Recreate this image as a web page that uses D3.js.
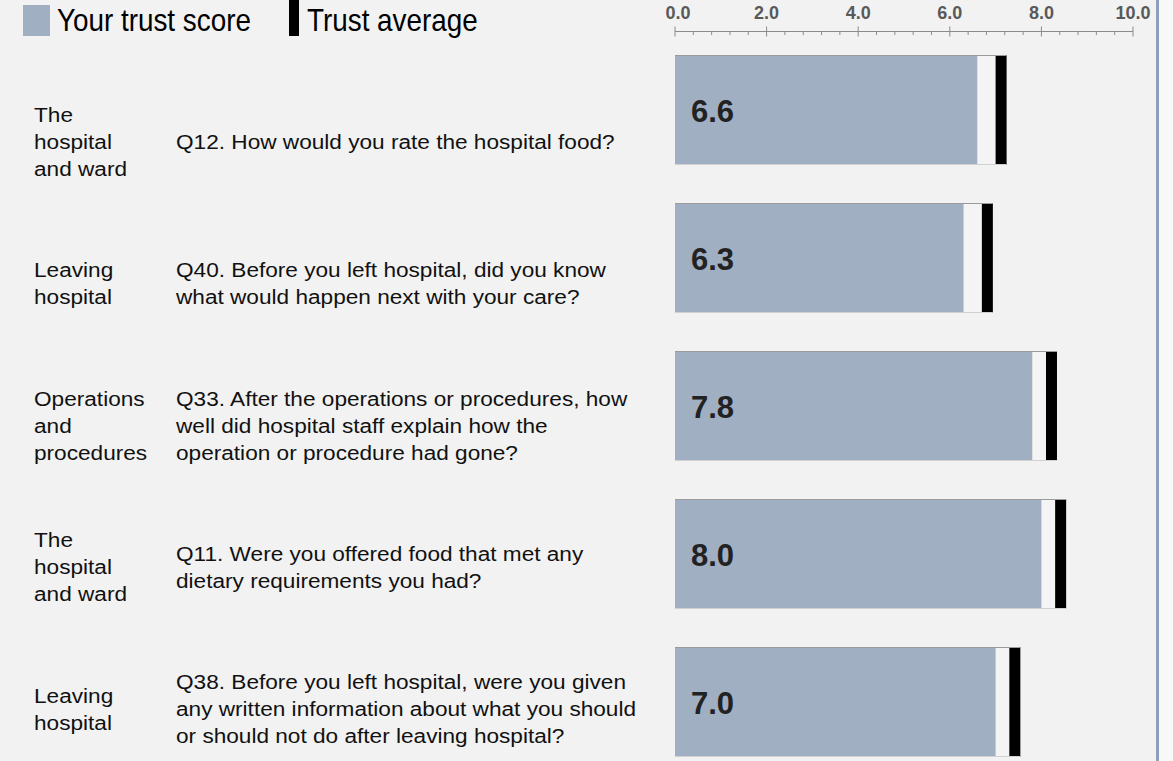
<!DOCTYPE html>
<html><head><meta charset="utf-8">
<script src="https://cdn.jsdelivr.net/npm/d3@7"></script>
<style>
html,body{margin:0;padding:0;background:#f2f2f2;}
svg{display:block;font-family:"Liberation Sans",Arial,sans-serif;}
</style></head>
<body>
<svg id="chart" width="1173" height="761"></svg>
<script>
const categories = [
  ["The","hospital","and ward"],
  ["Leaving","hospital"],
  ["Operations","and","procedures"],
  ["The","hospital","and ward"],
  ["Leaving","hospital"]
];
const questions = [
  ["Q12. How would you rate the hospital food?"],
  ["Q40. Before you left hospital, did you know","what would happen next with your care?"],
  ["Q33. After the operations or procedures, how","well did hospital staff explain how the","operation or procedure had gone?"],
  ["Q11. Were you offered food that met any","dietary requirements you had?"],
  ["Q38. Before you left hospital, were you given","any written information about what you should","or should not do after leaving hospital?"]
];
const scores = [6.6, 6.3, 7.8, 8.0, 7.0];
const averages = [7.0, 6.7, 8.1, 8.3, 7.3];
const axisTicks = [0, 2, 4, 6, 8, 10];
const legendLabels = ["Your trust score", "Trust average"];

const svg = d3.select("#chart");
const W = 1173, H = 761;
svg.append("rect").attr("x",0).attr("y",0).attr("width",W).attr("height",H).attr("fill","#f2f2f2");
svg.append("rect").attr("x",1159).attr("y",0).attr("width",W-1159).attr("height",H).attr("fill","#f8f8f8");
svg.append("rect").attr("x",1156).attr("y",0).attr("width",3).attr("height",H).attr("fill","#8d9fbb");

const rows = d3.range(scores.length);
const x = d3.scaleLinear().domain([0,10]).range([675,1133]);
const yBar = d3.scaleBand().domain(rows).range([55,757]).paddingInner(38/148).paddingOuter(0);
const yText = d3.scalePoint().domain(rows).range([149,716]);

// legend
const leg = svg.append("g");
leg.append("rect").attr("x",23).attr("y",5).attr("width",27).attr("height",31).attr("fill","#a0afc2");
leg.append("text").attr("transform","translate(57,30.7) scale(0.87,1)").attr("font-size",32).attr("fill","#000").text(legendLabels[0]);
leg.append("rect").attr("x",289).attr("y",0).attr("width",10).attr("height",36).attr("fill","#000");
leg.append("text").attr("transform","translate(307,30.7) scale(0.87,1)").attr("font-size",32).attr("fill","#000").text(legendLabels[1]);

// axis
const ax = svg.append("g");
const axY = 31.5;
ax.append("line").attr("x1",x(0)).attr("x2",x(10)).attr("y1",axY).attr("y2",axY).attr("stroke","#8a8a8a").attr("stroke-width",1);
const minor = d3.range(0, 10.0001, 0.4).filter(v => Math.abs(v/2 - Math.round(v/2)) > 1e-6);
ax.selectAll("line.minor").data(minor).join("line").attr("class","minor")
  .attr("x1",d=>x(d)).attr("x2",d=>x(d)).attr("y1",axY).attr("y2",axY+3.5)
  .attr("stroke","#8a8a8a").attr("stroke-width",1);
ax.selectAll("line.major").data(axisTicks).join("line").attr("class","major")
  .attr("x1",d=>x(d)).attr("x2",d=>x(d)).attr("y1",axY-5).attr("y2",axY+5)
  .attr("stroke","#8a8a8a").attr("stroke-width",1);
ax.selectAll("text").data(axisTicks).join("text")
  .attr("x",d=>x(d)+ (d===0?3:0)).attr("y",18.5).attr("text-anchor","middle")
  .attr("font-size",18).attr("font-weight","bold").attr("fill","#595959")
  .text(d=>d3.format(".1f")(d));

// bars
const bars = svg.append("g").selectAll("g").data(rows).join("g");
const bh = yBar.bandwidth();
bars.append("rect").attr("x",x(0)).attr("y",i=>yBar(i)).attr("width",i=>x(averages[i])-x(0)).attr("height",bh).attr("fill","#f4f4f4");
bars.append("rect").attr("x",x(0)).attr("y",i=>yBar(i)).attr("width",i=>x(scores[i])-x(0)).attr("height",bh).attr("fill","#a0afc2");
bars.append("rect").attr("x",i=>x(averages[i])).attr("y",i=>yBar(i)).attr("width",11).attr("height",bh).attr("fill","#000");
bars.append("line").attr("x1",x(0)).attr("x2",i=>x(averages[i])+11).attr("y1",i=>yBar(i)+0.5).attr("y2",i=>yBar(i)+0.5).attr("stroke","#9a9a9a");
bars.append("line").attr("x1",x(0)).attr("x2",i=>x(averages[i])+11).attr("y1",i=>yBar(i)+bh-0.5).attr("y2",i=>yBar(i)+bh-0.5).attr("stroke","#d0d0d0");
bars.append("text").attr("x",691).attr("y",i=>yBar(i)+bh/2+11.5).attr("font-size",31).attr("font-weight","bold").attr("fill","#222")
  .text(i=>d3.format(".1f")(scores[i]));

// labels
const lh = 27;
const lab = svg.append("g").selectAll("g").data(rows).join("g");
lab.each(function(i){
  const g = d3.select(this);
  const mid = yText(i);
  const c = categories[i];
  c.forEach((t,k)=>{
    const y = mid + (k-(c.length-1)/2)*lh;
    g.append("text").attr("transform",`translate(34,${y}) scale(1.16,1)`).attr("font-size",19.5).attr("fill","#111").text(t);
  });
  const q = questions[i];
  q.forEach((t,k)=>{
    const y = mid + (k-(q.length-1)/2)*lh;
    g.append("text").attr("transform",`translate(176,${y}) scale(1.16,1)`).attr("font-size",19.5).attr("fill","#111").text(t);
  });
});
</script>
</body></html>
